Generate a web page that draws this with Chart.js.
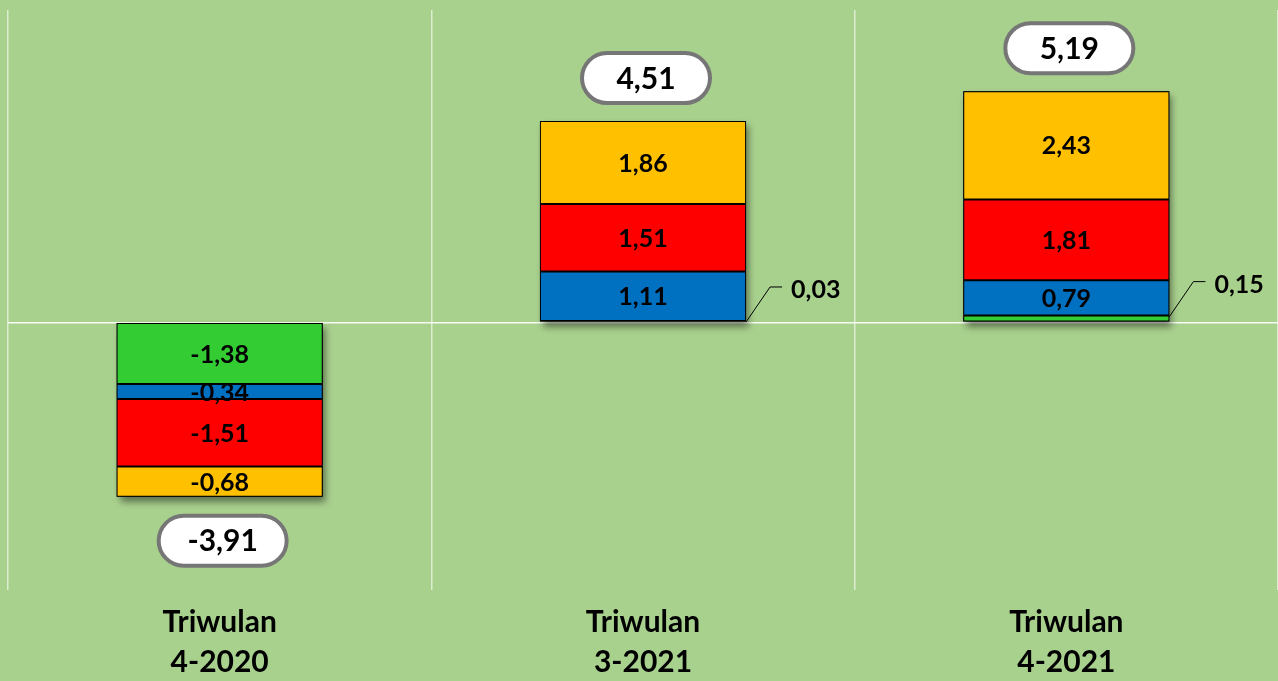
<!DOCTYPE html>
<html>
<head>
<meta charset="utf-8">
<script src="https://cdn.jsdelivr.net/npm/chart.js@4/dist/chart.umd.min.js"></script>
<style>
  html, body { margin: 0; padding: 0; background: #A9D18E; }
  #wrap { width: 1278px; height: 681px; position: relative; }
</style>
</head>
<body>
<div id="wrap"><canvas id="chart"></canvas></div>
<script>
// Categories and series (stack order from the zero line outward)
const categories = [['Triwulan', '4-2020'], ['Triwulan', '3-2021'], ['Triwulan', '4-2021']];
const greenValues = [-1.38, 0.03, 0.15];
const blueValues = [-0.34, 1.11, 0.79];
const redValues = [-1.51, 1.51, 1.81];
const yellowValues = [-0.68, 1.86, 2.43];
const totals = [-3.91, 4.51, 5.19];

const FONT = 'Lato, "DejaVu Sans", sans-serif';

function fmt(v) {
  return v.toFixed(2).replace('.', ',');
}

// Shadow behind each whole stacked column
const shadowPlugin = {
  id: 'columnShadow',
  beforeDatasetsDraw(chart) {
    const ctx = chart.ctx;
    const metas = chart.data.datasets.map((d, i) => chart.getDatasetMeta(i));
    categories.forEach((c, j) => {
      let top = Infinity, bottom = -Infinity, x = 0, w = 0;
      metas.forEach(m => {
        const el = m.data[j];
        top = Math.min(top, el.y, el.base);
        bottom = Math.max(bottom, el.y, el.base);
        x = el.x; w = el.width;
      });
      ctx.save();
      ctx.shadowColor = 'rgba(0,0,0,0.45)';
      ctx.shadowBlur = 7;
      ctx.shadowOffsetX = 3;
      ctx.shadowOffsetY = 5;
      ctx.fillStyle = '#000';
      ctx.fillRect(x - w / 2, top, w, bottom - top);
      ctx.restore();
    });
  }
};

// Value labels, leader lines and total pills
const labelPlugin = {
  id: 'valueLabels',
  afterDatasetsDraw(chart) {
    const ctx = chart.ctx;
    ctx.save();
    chart.data.datasets.forEach((ds, i) => {
      const meta = chart.getDatasetMeta(i);
      meta.data.forEach((el, j) => {
        const v = ds.data[j];
        ctx.fillStyle = '#000';
        ctx.font = 'bold 25px ' + FONT;
        ctx.textBaseline = 'middle';
        if (Math.abs(v) < 0.2) {
          const x0 = el.x + el.width / 2;
          const y0 = Math.min(el.y, el.base) + 1;
          ctx.strokeStyle = '#000';
          ctx.lineWidth = 1;
          ctx.beginPath();
          ctx.moveTo(x0, y0);
          ctx.lineTo(x0 + 24, y0 - 35);
          ctx.lineTo(x0 + 36, y0 - 35);
          ctx.stroke();
          ctx.textAlign = 'left';
          ctx.fillText(fmt(v), x0 + 45, y0 - 32);
        } else {
          ctx.textAlign = 'center';
          ctx.fillText(fmt(v), el.x, (el.y + el.base) / 2 + 1);
        }
      });
    });

    // total pills
    const metas = chart.data.datasets.map((d, i) => chart.getDatasetMeta(i));
    totals.forEach((t, j) => {
      let top = Infinity, bottom = -Infinity, x = 0;
      metas.forEach(m => {
        const el = m.data[j];
        top = Math.min(top, el.y, el.base);
        bottom = Math.max(bottom, el.y, el.base);
        x = el.x;
      });
      const cx = x + 3;
      const cy = t >= 0 ? top - 43 : bottom + 44;
      const w = 128, h = 50;
      ctx.beginPath();
      ctx.roundRect(cx - w / 2, cy - h / 2, w, h, h / 2);
      ctx.fillStyle = '#fff';
      ctx.fill();
      ctx.lineWidth = 4;
      ctx.strokeStyle = '#767676';
      ctx.stroke();
      ctx.fillStyle = '#000';
      ctx.font = 'bold 30px ' + FONT;
      ctx.textAlign = 'center';
      ctx.textBaseline = 'middle';
      ctx.fillText(fmt(t), cx, cy + 1);
    });
    ctx.restore();
  }
};

function makeDataset(label, data, color) {
  return {
    label: label,
    data: data,
    backgroundColor: color,
    borderColor: '#000',
    borderWidth: 1,
    borderSkipped: false,
    categoryPercentage: 1,
    barPercentage: 0.487
  };
}

new Chart(document.getElementById('chart'), {
  type: 'bar',
  data: {
    labels: categories,
    datasets: [
      makeDataset('Hijau', greenValues, '#33CC33'),
      makeDataset('Biru', blueValues, '#0070C0'),
      makeDataset('Merah', redValues, '#FF0000'),
      makeDataset('Kuning', yellowValues, '#FFC000')
    ]
  },
  options: {
    responsive: true,
    maintainAspectRatio: false,
    animation: false,
    layout: { padding: { left: 8, top: 10, right: 0, bottom: 0 } },
    plugins: {
      legend: { display: false },
      tooltip: { enabled: false }
    },
    scales: {
      x: {
        stacked: true,
        border: { display: false },
        grid: {
          color: 'rgba(255,255,255,0.6)',
          lineWidth: 1.5,
          drawTicks: false
        },
        ticks: {
          color: '#000',
          padding: 12,
          font: { family: FONT, size: 30, weight: 'bold', lineHeight: 1.333 }
        },
        afterFit(scale) { scale.height = 91; }
      },
      y: {
        stacked: true,
        min: -6,
        max: 7,
        border: { display: false },
        grid: {
          drawTicks: false,
          lineWidth: 1.5,
          color: c => (c.tick && c.tick.value === 0 ? 'rgba(255,255,255,0.9)' : 'rgba(0,0,0,0)')
        },
        ticks: { display: false, stepSize: 1 },
        afterFit(scale) { scale.width = 0; }
      }
    }
  },
  plugins: [shadowPlugin, labelPlugin]
});
</script>
</body>
</html>
